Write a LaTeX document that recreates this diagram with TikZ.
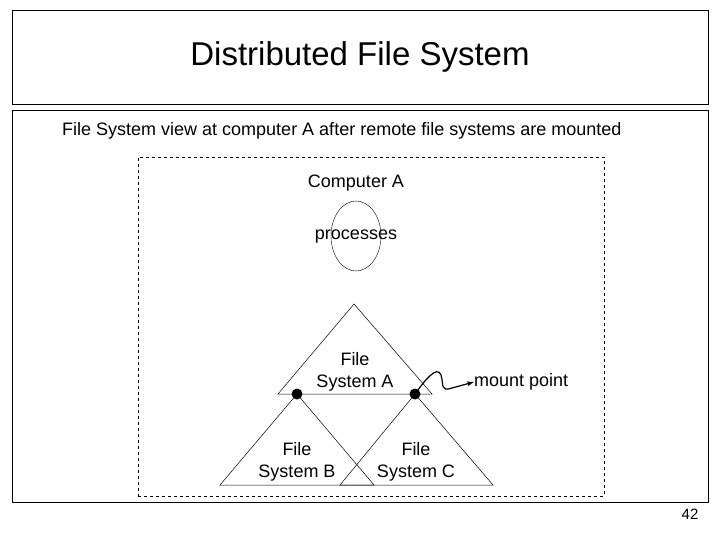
\documentclass[tikz,border=0pt]{standalone}
\usepackage{fontspec}
\setmainfont{Liberation Sans}
\usetikzlibrary{shapes.geometric}
\begin{document}
\begin{tikzpicture}[x=1pt,y=-1pt,
  lbl/.style={font=\fontsize{18}{22}\selectfont,align=center,inner sep=0},
  tri/.style={draw,line width=0.5pt},
  dot/.style={circle,fill=black,inner sep=0,minimum size=11pt}]
\useasboundingbox (0,0) rectangle (720,540);
\node[draw,minimum width=696pt,minimum height=94pt,anchor=north west] (title) at (12,10) {};
\node[font=\fontsize{33}{36}\selectfont] (tt) at (360,57) {Distributed File System};
\node[draw,minimum width=696pt,minimum height=392pt,anchor=north west] (body) at (12,110) {};
\node[lbl,anchor=west] (sub) at (62,131) {File System view at computer A after remote file systems are mounted};
\node[draw,dashed,minimum width=466pt,minimum height=339pt,anchor=north west] (comp) at (138,157) {};
\node[lbl] (ca) at (356,183) {Computer A};
\node[draw,ellipse,minimum width=50pt,minimum height=70pt,inner sep=0] (proc) at (356,236) {};
\node[lbl] (pt) at (356,237) {processes};
\draw[tri] (354,304) -- (278,394) -- (432,394) -- cycle;
\draw[tri] (297,394) -- (220,485) -- (374,485) -- cycle;
\draw[tri] (415,394) -- (340,485) -- (493,485) -- cycle;
\node[dot] (d1) at (297,394) {};
\node[dot] (d2) at (415,394) {};
\node[lbl] (fa) at (355,372) {File\\System A};
\node[lbl] (fb) at (297,462) {File\\System B};
\node[lbl] (fc) at (416,462) {File\\System C};
\node[lbl,anchor=west] (mp) at (474,382) {mount point};
\draw[line width=1.2pt,-latex] (d2.center) .. controls (425,380) and (437,365) .. (441,375)
  .. controls (444,385) and (440,392) .. (452,388) -- (mp.west);
\node[font=\fontsize{15}{17}\selectfont] (pg) at (690,514) {42};
\end{tikzpicture}
\end{document}
